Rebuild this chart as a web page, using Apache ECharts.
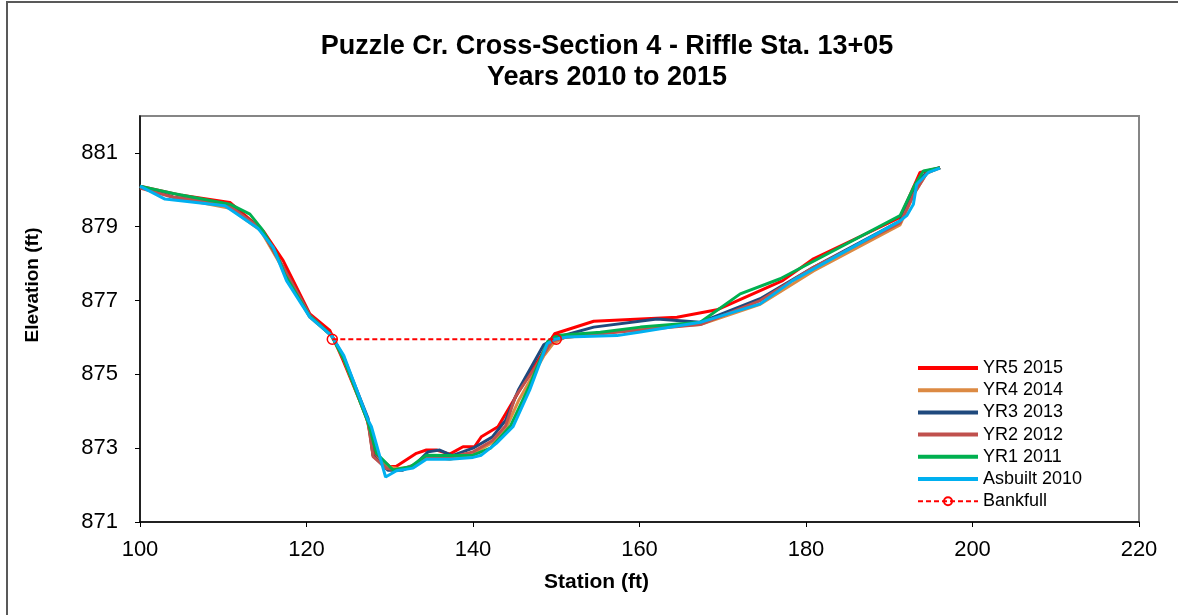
<!DOCTYPE html>
<html>
<head>
<meta charset="utf-8">
<script src="https://cdn.jsdelivr.net/npm/echarts@6/dist/echarts.min.js"></script>
<style>
  html, body { margin: 0; padding: 0; background: #fff; }
  #chart { width: 1178px; height: 615px; }
</style>
</head>
<body>
<div id="chart"></div>
<script>
// survey points [station, elevation]
var yr5_2015 = [[100,880.1],[105,879.85],[110.8,879.66],[114.8,878.89],[117.2,878.08],[120.4,876.64],[122.8,876.19],[124.4,875.38],[127.2,873.85],[128.2,872.86],[130,872.5],[130.8,872.51],[133.2,872.86],[134.4,872.95],[135.6,872.95],[137.2,872.84],[138.8,873.04],[140.2,873.04],[141,873.31],[143,873.58],[145.6,874.57],[149.8,876.1],[154.5,876.44],[164.5,876.55],[169.3,876.75],[177.2,877.54],[180.9,878.13],[191.3,879.25],[193.7,880.47],[196.1,880.6]];
var yr4_2014 = [[100,880.1],[104,879.8],[110.8,879.5],[114.5,878.9],[117.2,877.85],[120.4,876.55],[123,876.05],[124.5,875.4],[127.4,873.7],[128,872.8],[129.7,872.5],[131,872.45],[133,872.5],[134.5,872.8],[137.2,872.7],[140,872.85],[142.3,873.15],[144,873.55],[145.5,874.3],[148.5,875.5],[149.6,875.83],[151,876.0],[155.3,876.1],[160.1,876.25],[167.3,876.35],[174.5,876.9],[180.9,877.8],[191.3,879.05],[193,879.9],[194.5,880.45],[196.1,880.6]];
var yr3_2013 = [[100,880.1],[104,879.8],[110.5,879.6],[114.5,878.95],[117.2,877.9],[120.4,876.6],[123,876.05],[124.5,875.45],[127.4,873.8],[128,872.8],[129.8,872.4],[131.5,872.4],[133,872.55],[134.6,872.9],[136,872.95],[137.5,872.8],[140,873.0],[142.3,873.3],[143.9,873.75],[145.5,874.6],[148.5,875.8],[150,876.0],[154.5,876.28],[162.1,876.5],[167.3,876.41],[174.5,877.05],[180.9,877.9],[191.3,879.15],[193.3,880.2],[194.7,880.5],[196.1,880.6]];
var yr2_2012 = [[100,880.05],[104,879.8],[110.5,879.6],[114.5,878.95],[117.2,877.9],[120.4,876.6],[123,876.05],[124.5,875.45],[127.4,873.7],[128,872.77],[129.6,872.45],[131,872.4],[133,872.55],[134.6,872.78],[137.2,872.75],[140,872.9],[142.3,873.2],[143.9,873.6],[145.1,874.4],[147.5,875.2],[149.5,875.9],[151,876.0],[155.3,876.1],[160.1,876.2],[167.3,876.35],[174.5,877.0],[180.9,877.9],[191.3,879.1],[193,879.9],[194.5,880.45],[196.1,880.6]];
var yr1_2011 = [[100,880.1],[104,879.9],[110.8,879.61],[113.2,879.34],[114.6,878.95],[116.4,878.26],[117.4,877.7],[120.3,876.6],[123,876.05],[124.5,875.4],[127.4,873.7],[128.4,872.86],[130.4,872.41],[132.5,872.5],[134.4,872.81],[137,872.8],[140,872.81],[142.1,873.0],[144.5,873.6],[146.8,874.7],[149,875.9],[150,876.05],[155.3,876.14],[160.1,876.28],[167.3,876.41],[172.1,877.18],[176.9,877.59],[191.3,879.3],[193,880.1],[194.1,880.51],[196.1,880.6]];
var asbuilt_2010 = [[100,880.1],[103,879.75],[110.2,879.57],[114.2,878.95],[116,878.44],[117.6,877.54],[120.4,876.55],[123,876.05],[124.5,875.5],[127.4,873.76],[127.8,873.58],[129.5,872.22],[130.8,872.39],[132.8,872.46],[134.4,872.7],[137.2,872.7],[140,872.75],[141,872.81],[142.8,873.13],[144.8,873.58],[146.8,874.57],[148.9,875.83],[149.8,875.95],[151.3,876.01],[157.3,876.05],[160.1,876.15],[167.3,876.41],[174.5,876.91],[178.4,877.54],[191.3,879.16],[192.1,879.3],[192.9,879.61],[193.3,880.15],[194.7,880.47],[196.1,880.59]];
var bankfull = [[123.1,875.95],[150,875.95]];

var seriesNames = ["YR5 2015", "YR4 2014", "YR3 2013", "YR2 2012", "YR1 2011", "Asbuilt 2010", "Bankfull"];
var seriesColors = ["#FF0000", "#DC8A43", "#1F497D", "#C0504D", "#00B050", "#00B0F0", "#FF0000"];
var yTicks = [871, 873, 875, 877, 879, 881];

var chart = echarts.init(document.getElementById("chart"));
var font = "'Liberation Sans', Arial, sans-serif";

function surveyLine(i, data) {
  return {
    name: seriesNames[i],
    type: "line",
    data: data,
    symbol: "none",
    color: seriesColors[i],
    lineStyle: { width: 3, color: seriesColors[i] },
    animation: false
  };
}

// legend entries: plain line for surveys, no marker
var legendData = seriesNames.map(function (n, i) {
  if (i < 6) return { name: n, itemStyle: { opacity: 0 }, lineStyle: { width: 4 } };
  return { name: n };
});

var option = {
  backgroundColor: "#fff",
  textStyle: { fontFamily: font },
  graphic: [
    {
      type: "rect",
      shape: { x: 7, y: 2, width: 1200, height: 700 },
      style: { fill: null, stroke: "#595959", lineWidth: 2 },
      silent: true
    }
  ],
  title: {
    text: "Puzzle Cr. Cross-Section 4 - Riffle Sta. 13+05\nYears 2010 to 2015",
    left: 602,
    top: 26,
    textAlign: "center",
    textStyle: { fontFamily: font, fontSize: 27, fontWeight: "bold", color: "#000", lineHeight: 31 }
  },
  grid: {
    left: 140, top: 116, right: 39, bottom: 93,
    show: true, borderColor: "#868686", borderWidth: 2, backgroundColor: "transparent"
  },
  legend: {
    orient: "vertical",
    left: 911,
    top: 354,
    itemWidth: 60,
    itemHeight: 10,
    itemGap: 4.2,
    textStyle: { fontFamily: font, fontSize: 18, lineHeight: 18, color: "#000" },
    data: legendData
  },
  xAxis: {
    type: "value",
    min: 100, max: 220, interval: 20,
    name: "Station (ft)",
    nameLocation: "middle",
    nameGap: 50,
    nameTextStyle: { fontFamily: font, fontSize: 21, fontWeight: "bold", color: "#000", padding: [0, 86, 0, 0] },
    axisLine: { lineStyle: { color: "#000", width: 1.5 } },
    axisTick: { show: true, length: 5, lineStyle: { color: "#000" } },
    axisLabel: { fontFamily: font, fontSize: 22, color: "#000", margin: 17 },
    splitLine: { show: false }
  },
  yAxis: {
    type: "value",
    min: 871, max: 882,
    name: "Elevation (ft)",
    nameLocation: "middle",
    nameGap: 98,
    nameTextStyle: { fontFamily: font, fontSize: 19, fontWeight: "bold", color: "#000", padding: [0, 0, 0, 68] },
    axisLine: { lineStyle: { color: "#000", width: 1.5 } },
    axisTick: { show: true, length: 5, lineStyle: { color: "#000" }, customValues: yTicks },
    axisLabel: { fontFamily: font, fontSize: 22, color: "#000", margin: 22, customValues: yTicks },
    splitLine: { show: false }
  },
  series: [
    surveyLine(0, yr5_2015),
    surveyLine(1, yr4_2014),
    surveyLine(2, yr3_2013),
    surveyLine(3, yr2_2012),
    surveyLine(4, yr1_2011),
    surveyLine(5, asbuilt_2010),
    {
      name: seriesNames[6],
      type: "line",
      data: bankfull,
      symbol: "circle",
      symbolSize: 10,
      showAllSymbol: true,
      color: seriesColors[6],
      itemStyle: { color: "rgba(255,255,255,0)", borderColor: seriesColors[6], borderWidth: 1.5 },
      lineStyle: { width: 2, type: [5, 3], color: seriesColors[6] },
      z: 3,
      animation: false
    }
  ]
};
chart.setOption(option);
</script>
</body>
</html>
